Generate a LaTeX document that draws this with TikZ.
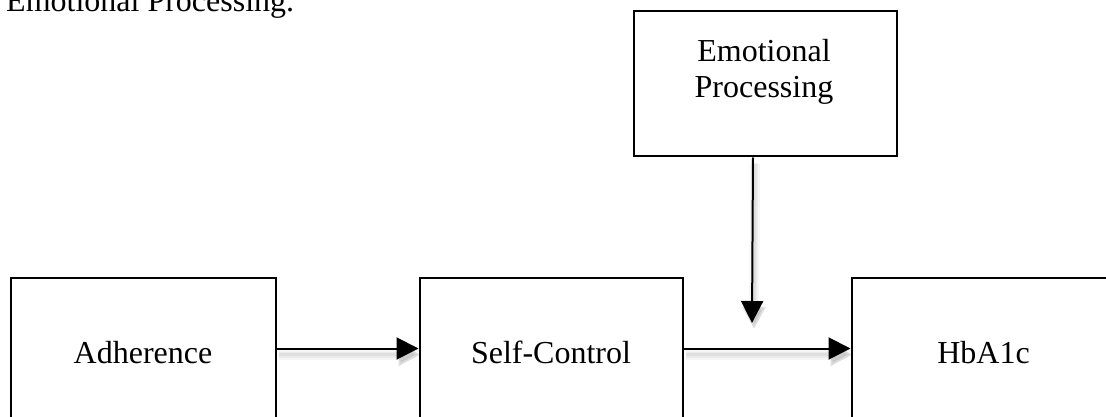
\documentclass[tikz,border=0pt]{standalone}
\usepackage{fontspec}
\setmainfont{Liberation Serif}
\usetikzlibrary{arrows.meta}
\begin{document}
\begin{tikzpicture}[x=1pt,y=-1pt,
  big/.style={font=\fontsize{32}{36}\selectfont},
  box/.style={draw, line width=2pt, minimum width=264pt, minimum height=142pt,
    inner sep=0pt, anchor=north west, text height=30pt, text depth=0pt, big},
  tip/.style={-{Triangle[length=22pt,width=22pt]}},
  arr/.style={line width=2pt, tip},
  shad/.style={
    preaction={draw=black, opacity=0.035, line width=10pt, tip,
      transform canvas={shift={(2pt,-6pt)}}},
    preaction={draw=black, opacity=0.045, line width=6pt, tip,
      transform canvas={shift={(2pt,-6pt)}}},
    preaction={draw=black, opacity=0.05, line width=3pt, tip,
      transform canvas={shift={(2pt,-6pt)}}}}
]
\useasboundingbox (0,0) rectangle (1106,417);
\clip (0,0) rectangle (1106,417);
\fill[white] (0,0) rectangle (1106,417);

\node[big, anchor=base west, inner sep=0pt] (title) at (6,12) {Emotional Processing.};

\node[box, minimum width=265pt] (adh) at (9.5,276.5) {Adherence};
\node[box, minimum width=263pt] (sc) at (418.5,276.5) {Self-Control};
\node[box, minimum width=264pt] (hb) at (850.5,276.5) {HbA1c};
\node[draw, line width=2pt, minimum width=263pt, minimum height=145pt, inner sep=0pt,
  anchor=north west] (emo) at (632.5,10.5) {};
\node[big, align=center, anchor=north, inner sep=0pt] (emoT) at (764,39) {Emotional\\Processing};

\coordinate (mod) at (752,323);

\draw[arr, shad] (adh.east) -- (sc.west);
\draw[arr, shad] (sc.east) -- (hb.west);
\draw[arr, shad] ([xshift=-12pt]emo.south) -- (mod);
\end{tikzpicture}
\end{document}
